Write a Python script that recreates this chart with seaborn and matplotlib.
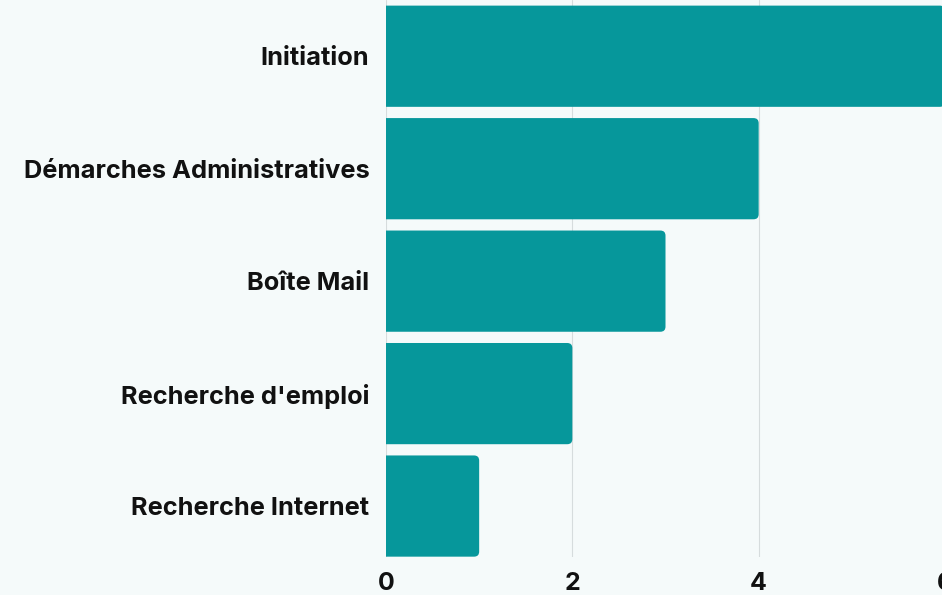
import matplotlib
matplotlib.use("Agg")
import matplotlib.pyplot as plt
from matplotlib.patches import FancyBboxPatch
import seaborn as sns
import pandas as pd

# data
categories = ["Initiation", "Démarches Administratives", "Boîte Mail",
              "Recherche d'emploi", "Recherche Internet"]
counts = [6, 4, 3, 2, 1]
xticks = [0, 2, 4, 6]

bg = "#f5fafa"
teal = "#06979b"

sns.set_theme(style="white")
plt.rcParams["font.family"] = ["Inter", "DejaVu Sans"]

df = pd.DataFrame({"theme": categories, "n": counts})

fig = plt.figure(figsize=(9.42, 5.95), dpi=100, facecolor=bg)
ax = fig.add_axes([386 / 942, 1 - 557 / 595, (945 - 386) / 942, 557 / 595])
ax.set_facecolor(bg)

sns.barplot(data=df, x="n", y="theme", color=teal, width=0.9,
            saturation=1, ax=ax, zorder=3)

ax.set_xlim(0, 6)
ax.set_ylim(4.453, -0.5)

# swap the square bars for ones with rounded ends
r = 0.055
for p in list(ax.patches):
    x0, y0 = p.get_x(), p.get_y()
    w, h = p.get_width(), p.get_height()
    rb = FancyBboxPatch((x0 - r, y0), w + r, h,
                        boxstyle=f"round,pad=0,rounding_size={r}",
                        mutation_aspect=0.83, facecolor=teal,
                        edgecolor="none", zorder=3)
    p.remove()
    ax.add_patch(rb)

ax.set_xticks(xticks)
ax.xaxis.grid(True, color="#d6dcdd", linewidth=0.8, zorder=0)
ax.set_axisbelow(True)
for s in ax.spines.values():
    s.set_visible(False)
ax.set_xlabel("")
ax.set_ylabel("")
ax.tick_params(axis="y", length=0, pad=12, labelsize=18.3, labelcolor="#111111")
ax.tick_params(axis="x", length=0, pad=11, labelsize=18, labelcolor="#111111")
for lab in ax.get_yticklabels() + ax.get_xticklabels():
    lab.set_fontweight("bold")

fig.savefig("out.png", dpi=100, facecolor=bg)
